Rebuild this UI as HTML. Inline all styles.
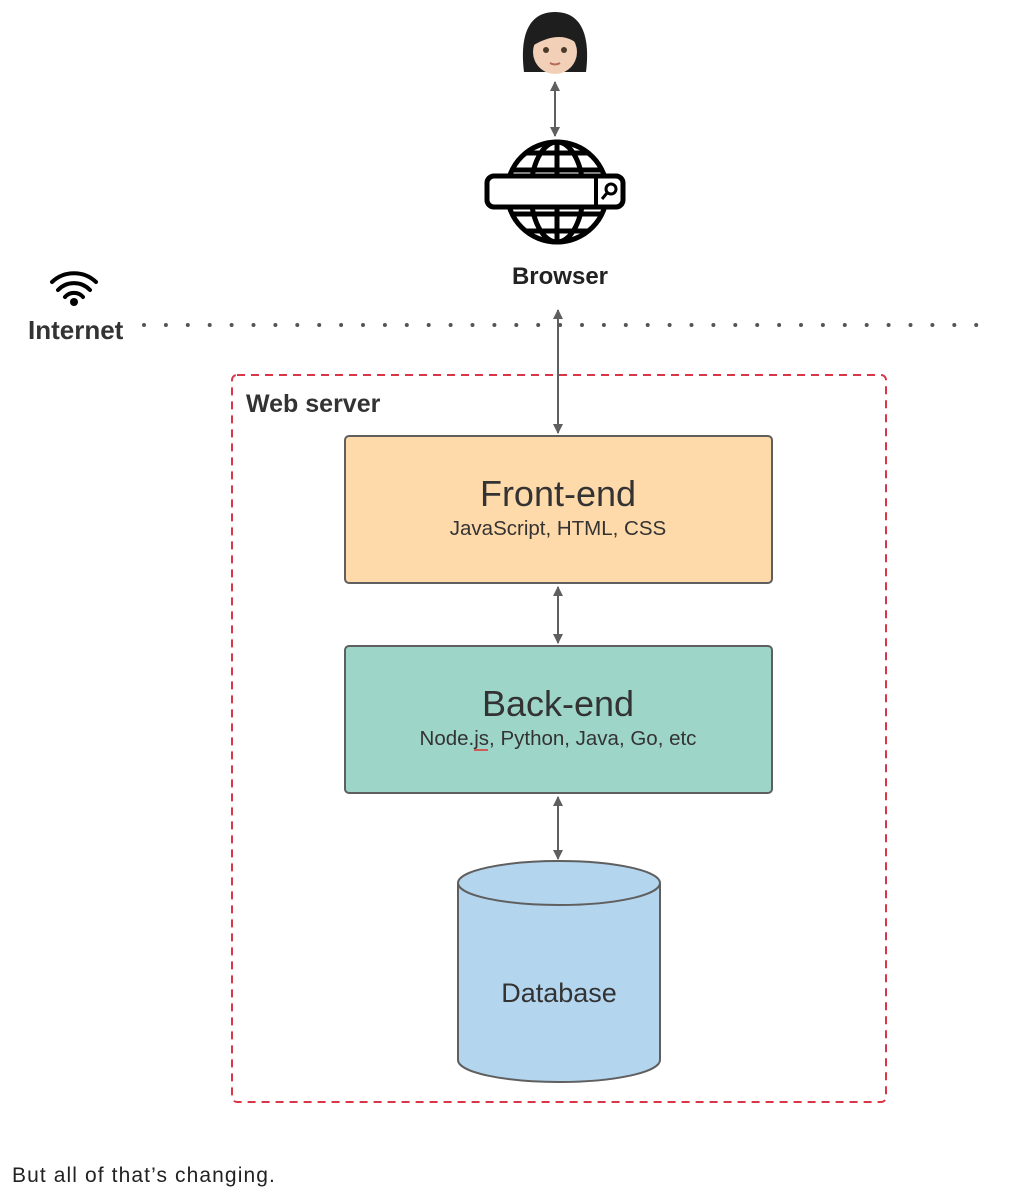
<!DOCTYPE html>
<html><head><meta charset="utf-8"><style>
html,body{margin:0;padding:0;background:#fff;width:1033px;height:1200px;overflow:hidden}
</style></head><body>
<svg width="1033" height="1200" viewBox="0 0 1033 1200" xmlns="http://www.w3.org/2000/svg" font-family="Liberation Sans, sans-serif">
<defs>
<marker id="a" viewBox="0 0 10 10" refX="9" refY="5" markerWidth="10" markerHeight="10" markerUnits="userSpaceOnUse" orient="auto-start-reverse">
<path d="M0,0 L10,5 L0,10 z" fill="#5f5f5f"/></marker>
</defs>
<!-- person -->
<path d="M524,72 C520,40 526,12 555,12 C584,12 590,40 586,72 Z" fill="#1e1e1e"/>
<ellipse cx="555" cy="52" rx="22" ry="22" fill="#f2d0b8"/>
<path d="M532,46 C534,30 545,24 560,26 C570,28 577,36 580,46 C570,36 555,32 532,46 Z" fill="#1e1e1e"/>
<circle cx="546" cy="50" r="3" fill="#4a3a2a"/><circle cx="564" cy="50" r="3" fill="#4a3a2a"/>
<path d="M550,63 Q555,66 560,63" stroke="#b56a5a" stroke-width="2" fill="none"/>
<!-- arrows -->
<g stroke="#5f5f5f" stroke-width="2">
<line x1="555" y1="82" x2="555" y2="136" marker-start="url(#a)" marker-end="url(#a)"/>
<line x1="558" y1="310" x2="558" y2="433" marker-start="url(#a)" marker-end="url(#a)"/>
<line x1="558" y1="587" x2="558" y2="643" marker-start="url(#a)" marker-end="url(#a)"/>
<line x1="558" y1="797" x2="558" y2="859" marker-start="url(#a)" marker-end="url(#a)"/>
</g>
<!-- globe -->
<g stroke="#000" stroke-width="5" fill="none">
<circle cx="557" cy="192" r="50"/>
<ellipse cx="557" cy="192" rx="26" ry="50"/>
<line x1="557" y1="142" x2="557" y2="242"/>
<line x1="525" y1="153" x2="589" y2="153"/>
<line x1="512" y1="170" x2="602" y2="170"/>
<line x1="512" y1="214" x2="602" y2="214"/>
<line x1="525" y1="231" x2="589" y2="231"/>
</g>
<rect x="487" y="176" width="136" height="31" rx="7" fill="#fff" stroke="#000" stroke-width="5"/>
<line x1="596" y1="176" x2="596" y2="207" stroke="#000" stroke-width="4"/>
<circle cx="611" cy="189" r="5" fill="none" stroke="#000" stroke-width="3"/>
<line x1="607" y1="193" x2="602" y2="199" stroke="#000" stroke-width="3"/>
<text x="560" y="284" text-anchor="middle" font-size="24" font-weight="bold" fill="#222">Browser</text>
<!-- wifi -->
<g stroke="#000" stroke-width="4" fill="none" stroke-linecap="round">
<path d="M52,282 A32,32 0 0 1 96,282"/>
<path d="M58,290 A22,22 0 0 1 90,290"/>
<path d="M65,297 A12,12 0 0 1 83,297"/>
</g>
<circle cx="74" cy="302" r="4" fill="#000"/>
<text x="28" y="339" font-size="26" font-weight="bold" fill="#333">Internet</text>
<line x1="144" y1="325" x2="980" y2="325" stroke="#555" stroke-width="4" stroke-linecap="round" stroke-dasharray="0 21.9"/>
<!-- web server -->
<rect x="232" y="375" width="654" height="727" rx="5" fill="none" stroke="#d9364a" stroke-width="2" stroke-dasharray="8 6"/>
<text x="246" y="412" font-size="25" font-weight="bold" fill="#333">Web server</text>
<rect x="345" y="436" width="427" height="147" rx="4" fill="#fed9a9" stroke="#5f5f5f" stroke-width="2"/>
<text x="558" y="506" text-anchor="middle" font-size="36" fill="#333">Front-end</text>
<text x="558" y="535" text-anchor="middle" font-size="20.5" fill="#333">JavaScript, HTML, CSS</text>
<rect x="345" y="646" width="427" height="147" rx="4" fill="#9dd6c8" stroke="#5f5f5f" stroke-width="2"/>
<text x="558" y="716" text-anchor="middle" font-size="36" fill="#333">Back-end</text>
<text x="558" y="745" text-anchor="middle" font-size="20.5" fill="#333">Node.js, Python, Java, Go, etc</text>
<path d="M474,750 L488,750" stroke="#d33" stroke-width="1.5"/>
<!-- db -->
<path d="M458,883 L458,1060 A101,22 0 0 0 660,1060 L660,883" fill="#b4d5ee" stroke="#5f5f5f" stroke-width="2"/>
<ellipse cx="559" cy="883" rx="101" ry="22" fill="#b4d5ee" stroke="#5f5f5f" stroke-width="2"/>
<text x="559" y="1002" text-anchor="middle" font-size="27" fill="#333">Database</text>
<text x="12" y="1182" font-size="21" letter-spacing="1.1" fill="#222">But all of that’s changing.</text>
</svg>
</body></html>
